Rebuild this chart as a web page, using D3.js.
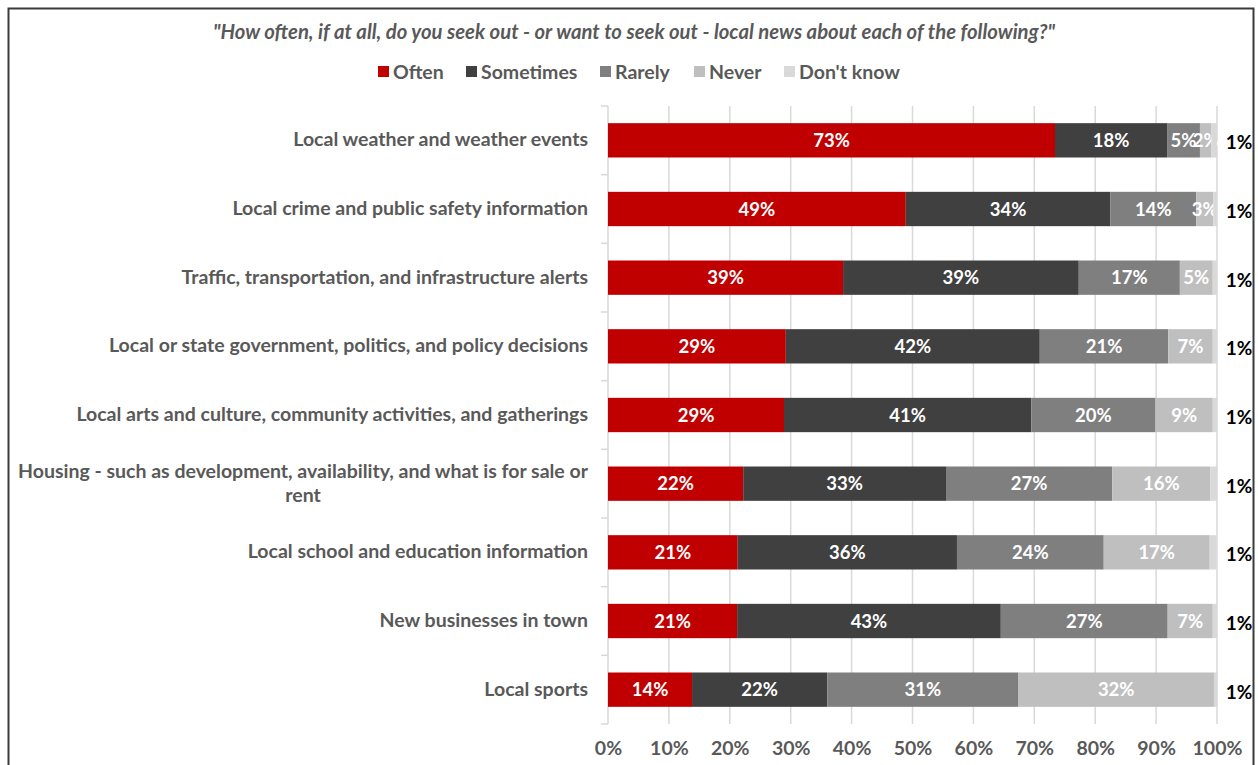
<!DOCTYPE html>
<html>
<head>
<meta charset="utf-8">
<script src="https://cdn.jsdelivr.net/npm/d3@7"></script>
<style>
  html, body { margin: 0; padding: 0; background: #fff; }
  svg { display: block; }
  text { font-family: Lato, "Open Sans", sans-serif; font-weight: bold; }
</style>
</head>
<body>
<svg id="chart" width="1258" height="765"></svg>
<script>
// Survey topics, top to bottom
const categories = [
  "Local weather and weather events",
  "Local crime and public safety information",
  "Traffic, transportation, and infrastructure alerts",
  "Local or state government, politics, and policy decisions",
  "Local arts and culture, community activities, and gatherings",
  "Housing - such as development, availability, and what is for sale or rent",
  "Local school and education information",
  "New businesses in town",
  "Local sports"
];

// Share of respondents (%) per answer
const often     = [73.4, 48.9, 38.6, 29.2, 28.9, 22.2, 21.3, 21.2, 13.8];
const sometimes = [18.4, 33.6, 38.7, 41.7, 40.6, 33.3, 36.0, 43.3, 22.2];
const rarely    = [5.4, 14.1, 16.6, 21.1, 20.4, 27.3, 24.1, 27.4, 31.4];
const never     = [1.9, 2.8, 5.4, 7.3, 9.4, 16.1, 17.4, 7.4, 32.1];
const dontKnow  = [0.9, 0.6, 0.7, 0.7, 0.7, 1.1, 1.1, 0.7, 0.6];

const seriesNames = ["Often", "Sometimes", "Rarely", "Never", "Don't know"];
const xTicks = [0, 10, 20, 30, 40, 50, 60, 70, 80, 90, 100];

const title = "\"How often, if at all, do you seek out - or want to seek out - local news about each of the following?\"";

const colors = ["#c00000", "#404040", "#7f7f7f", "#bfbfbf", "#d9d9d9"];
const seriesValues = [often, sometimes, rarely, never, dontKnow];

const rows = categories.map((c, i) => {
  const r = { category: c };
  seriesNames.forEach((s, k) => r[s] = seriesValues[k][i]);
  return r;
});

const svg = d3.select("#chart");
const textGray = "#595959";
const fontSize = 19.5;

// Outer frame
svg.append("rect")
  .attr("x", 8.5).attr("y", 8.5)
  .attr("width", 1245).attr("height", 780)
  .attr("fill", "none").attr("stroke", "#3a3a3a").attr("stroke-width", 2);

const margin = { left: 608, right: 1217, top: 106, bottom: 724 };

const x = d3.scaleLinear().domain([0, 100]).range([margin.left, margin.right]);
const y = d3.scaleBand().domain(categories).range([margin.top, margin.bottom]).paddingInner(0.5).paddingOuter(0.25);

// Title
svg.append("text")
  .attr("x", 634).attr("y", 39)
  .attr("text-anchor", "middle")
  .attr("font-size", 20.3)
  .attr("font-style", "italic")
  .attr("fill", textGray)
  .text(title);

// Legend
const legendX = [378, 466, 600, 694, 784];
const legend = svg.append("g");
seriesNames.forEach((s, k) => {
  const g = legend.append("g").attr("transform", `translate(${legendX[k]},72)`);
  g.append("rect").attr("x", 0).attr("y", -6).attr("width", 11).attr("height", 11).attr("fill", colors[k]);
  g.append("text").attr("x", 15).attr("y", 7).attr("font-size", fontSize).attr("fill", textGray).text(s);
});

// Vertical gridlines
svg.append("g")
  .selectAll("line")
  .data(xTicks.slice(1))
  .join("line")
  .attr("x1", d => x(d)).attr("x2", d => x(d))
  .attr("y1", margin.top).attr("y2", margin.bottom)
  .attr("stroke", "#d9d9d9").attr("stroke-width", 1.5);

// X axis tick labels
const xAxis = d3.axisBottom(x).tickValues(xTicks).tickFormat(d => d + "%").tickSize(0).tickPadding(0);
const xg = svg.append("g").attr("transform", `translate(0,${margin.bottom})`).call(xAxis);
xg.select(".domain").remove();
xg.selectAll("text")
  .attr("y", 31)
  .attr("dy", 0)
  .attr("font-size", fontSize)
  .attr("fill", textGray)
  .style("font-family", "Lato, 'Open Sans', sans-serif")
  .style("font-weight", "bold");

// Category axis line with ticks at band boundaries
const axisG = svg.append("g");
axisG.append("line")
  .attr("x1", margin.left).attr("x2", margin.left)
  .attr("y1", margin.top).attr("y2", margin.bottom)
  .attr("stroke", "#d9d9d9").attr("stroke-width", 1.5);
const bounds = d3.range(categories.length + 1).map(i => margin.top + i * (margin.bottom - margin.top) / categories.length);
axisG.selectAll("line.tick")
  .data(bounds)
  .join("line")
  .attr("class", "tick")
  .attr("x1", margin.left - 7).attr("x2", margin.left)
  .attr("y1", d => d).attr("y2", d => d)
  .attr("stroke", "#d9d9d9").attr("stroke-width", 1.5);

// Category labels (wrapped where too wide)
const maxLabelWidth = 575;
const lineHeight = 24;
const catG = svg.append("g");
categories.forEach(c => {
  const cy = y(c) + y.bandwidth() / 2;
  const t = catG.append("text")
    .attr("font-size", fontSize)
    .attr("fill", textGray)
    .attr("text-anchor", "end")
    .attr("x", 588)
    .attr("y", cy + 6)
    .text(c);
  if (t.node().getComputedTextLength() > maxLabelWidth) {
    const words = c.split(" ");
    t.text(null);
    let lines = [], line = [];
    const probe = catG.append("text").attr("font-size", fontSize);
    words.forEach(w => {
      line.push(w);
      probe.text(line.join(" "));
      if (probe.node().getComputedTextLength() > maxLabelWidth && line.length > 1) {
        line.pop();
        lines.push(line.join(" "));
        line = [w];
      }
    });
    lines.push(line.join(" "));
    probe.text(lines[0]);
    const w0 = probe.node().getComputedTextLength();
    probe.remove();
    const centerX = 588 - w0 / 2;
    t.attr("text-anchor", "middle").attr("x", centerX).attr("y", null);
    lines.forEach((ln, i) => {
      t.append("tspan")
        .attr("x", centerX)
        .attr("y", cy + 6 - (lines.length - 1) * lineHeight / 2 + i * lineHeight)
        .text(ln);
    });
  }
});

// Stacked bars: each series drawn with its labels, so the next segment sits above them
const stack = d3.stack().keys(seriesNames);
const stacked = stack(rows);
const barsG = svg.append("g");

stacked.forEach((layer, k) => {
  const g = barsG.append("g");
  g.selectAll("rect")
    .data(layer)
    .join("rect")
    .attr("x", d => x(d[0]))
    .attr("width", d => x(d[1]) - x(d[0]))
    .attr("y", d => y(d.data.category))
    .attr("height", y.bandwidth())
    .attr("fill", colors[k]);

  if (k < 4) {
    g.selectAll("text")
      .data(layer)
      .join("text")
      .attr("x", d => (x(d[0]) + x(d[1])) / 2)
      .attr("y", d => y(d.data.category) + y.bandwidth() / 2 + 6.5)
      .attr("text-anchor", "middle")
      .attr("font-size", 18.5)
      .attr("fill", "#ffffff")
      .text(d => Math.round(d[1] - d[0]) + "%");
  } else {
    // "Don't know" values sit outside the bar end
    g.selectAll("text")
      .data(layer)
      .join("text")
      .attr("x", 1239)
      .attr("y", d => y(d.data.category) + y.bandwidth() / 2 + 9)
      .attr("text-anchor", "middle")
      .attr("font-size", 19)
      .attr("fill", "#000000")
      .text(d => Math.max(1, Math.round(d[1] - d[0])) + "%");
  }
});
</script>
</body>
</html>
